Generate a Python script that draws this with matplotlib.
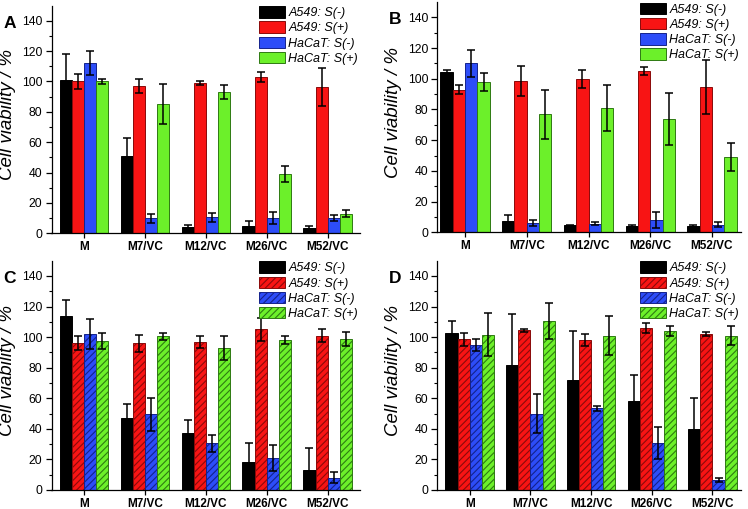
import matplotlib
matplotlib.use("Agg")
import matplotlib.pyplot as plt
import numpy as np

plt.rcParams['font.family'] = ['Liberation Sans', 'DejaVu Sans']
plt.rcParams['hatch.linewidth'] = 0.8

categories = ["M", "M7/VC", "M12/VC", "M26/VC", "M52/VC"]
series_labels = ["A549: S(-)", "A549: S(+)", "HaCaT: S(-)", "HaCaT: S(+)"]

# Panel A
A_a549_neg = [101, 51, 4, 5, 3.5]
A_a549_neg_err = [17, 12, 1.5, 3, 1.5]
A_a549_pos = [100, 97, 99, 103, 96.5]
A_a549_pos_err = [5, 4.5, 1.5, 3.5, 12.5]
A_hacat_neg = [112, 10, 10.5, 10, 10]
A_hacat_neg_err = [8, 3, 3, 4, 2]
A_hacat_pos = [100, 85, 93, 39, 13]
A_hacat_pos_err = [1.5, 13, 4.5, 5, 2.5]

# Panel B
B_a549_neg = [104.5, 7.5, 4.5, 4, 4]
B_a549_neg_err = [1.5, 3.5, 0.5, 0.5, 0.5]
B_a549_pos = [93, 98.5, 100, 105, 94.5]
B_a549_pos_err = [3, 9.5, 6, 2.5, 17.5]
B_hacat_neg = [110, 6, 5.5, 8, 5]
B_hacat_neg_err = [9, 2, 1, 5, 1.5]
B_hacat_pos = [98, 77, 81, 74, 49]
B_hacat_pos_err = [6, 16, 15, 17, 9]

# Panel C
C_a549_neg = [114, 47, 37, 18, 13]
C_a549_neg_err = [10.5, 9.5, 9, 12.5, 14.5]
C_a549_pos = [96, 96, 97, 105, 101]
C_a549_pos_err = [4.5, 5.5, 4, 7.5, 4]
C_hacat_neg = [102, 49.5, 30.5, 21, 8]
C_hacat_neg_err = [10, 11, 5.5, 8.5, 3.5]
C_hacat_pos = [97.5, 100.5, 93, 98, 99]
C_hacat_pos_err = [5, 2.5, 8, 2.5, 4.5]

# Panel D
D_a549_neg = [103, 82, 72, 58, 40]
D_a549_neg_err = [7.5, 33, 32, 17, 20]
D_a549_pos = [98.5, 104.5, 98, 106, 102]
D_a549_pos_err = [4, 1, 4, 3, 1.5]
D_hacat_neg = [95, 50, 53.5, 31, 6.5]
D_hacat_neg_err = [4, 13, 1.5, 10.5, 1.5]
D_hacat_pos = [101.5, 110.5, 101, 104, 101]
D_hacat_pos_err = [14, 12, 12.5, 3.5, 6]

fills = ["#000000", "#F81414", "#2D4DF8", "#6CF02A"]
edges = ["#000000", "#8A0A0A", "#14228C", "#2E7A12"]

W, H = 748.0, 509.0

def px_rect(left, right, top150, bottom0):
    return [left / W, (H - bottom0) / H, (right - left) / W, (bottom0 - top150) / H]

panels = [
    ("A", [A_a549_neg, A_a549_pos, A_hacat_neg, A_hacat_pos],
     [A_a549_neg_err, A_a549_pos_err, A_hacat_neg_err, A_hacat_pos_err], False,
     px_rect(51.5, 360, 5.5, 233.3), (-0.535, 4.53)),
    ("B", [B_a549_neg, B_a549_pos, B_hacat_neg, B_hacat_pos],
     [B_a549_neg_err, B_a549_pos_err, B_hacat_neg_err, B_hacat_pos_err], False,
     px_rect(437.3, 741, 2.0, 232.3), (-0.45, 4.47)),
    ("C", [C_a549_neg, C_a549_pos, C_hacat_neg, C_hacat_pos],
     [C_a549_neg_err, C_a549_pos_err, C_hacat_neg_err, C_hacat_pos_err], True,
     px_rect(51.5, 360, 260.7, 490), (-0.535, 4.53)),
    ("D", [D_a549_neg, D_a549_pos, D_hacat_neg, D_hacat_pos],
     [D_a549_neg_err, D_a549_pos_err, D_hacat_neg_err, D_hacat_pos_err], True,
     px_rect(437.3, 741, 260.7, 490), (-0.535, 4.47)),
]

fig = plt.figure(figsize=(7.48, 5.09), dpi=100)
x = np.arange(len(categories))
w = 0.2
for letter, vals, errs, hatched, pos, xl in panels:
    ax = fig.add_axes(pos)
    handles = []
    for i in range(4):
        xi = x + (i - 1.5) * w
        hatch = "/////" if (hatched and i > 0) else None
        b = ax.bar(xi, vals[i], width=w, color=fills[i], edgecolor=edges[i],
                   linewidth=0.7, hatch=hatch, label=series_labels[i], zorder=2)
        ax.errorbar(xi, vals[i], yerr=errs[i], fmt='none', ecolor='black',
                    elinewidth=1.1, capsize=2.6, capthick=1.1, zorder=3)
        handles.append(b)
    ax.set_xlim(*xl)
    ax.set_ylim(0, 150)
    ax.set_yticks(np.arange(0, 141, 20))
    ax.set_yticks(np.arange(10, 150, 20), minor=True)
    ax.set_xticks(x)
    ax.set_xticklabels(categories, fontweight='bold', fontsize=8.5)
    ax.tick_params(axis='y', labelsize=8.8, direction='out', length=4, width=0.9, pad=2.5)
    ax.tick_params(axis='y', which='minor', direction='out', length=2.5, width=0.8)
    ax.tick_params(axis='x', direction='out', length=3.5, width=0.9, pad=2)
    for s in ['top', 'right']:
        ax.spines[s].set_visible(False)
    for s in ['left', 'bottom']:
        ax.spines[s].set_linewidth(0.9)
    ax.set_ylabel("Cell viability / %", fontsize=13.5, fontstyle='italic')
    bb = ax.get_position()
    ax_w_px = bb.width * W
    ax.yaxis.set_label_coords(-35.0 / ax_w_px, 0.52)
    ax.legend(handles=handles, loc='upper right', bbox_to_anchor=(0.995, 1.0),
              frameon=False, prop={'style': 'italic', 'size': 9},
              handlelength=2.1, handleheight=1.05, labelspacing=0.17,
              handletextpad=0.25, borderpad=0.05, borderaxespad=0.0)
    fig.text(bb.x0 - 48.0 / W, bb.y1 - 18.0 / H, letter, fontsize=12.5, fontweight='bold',
             ha='left', va='center')

fig.savefig("out.png", dpi=100)
